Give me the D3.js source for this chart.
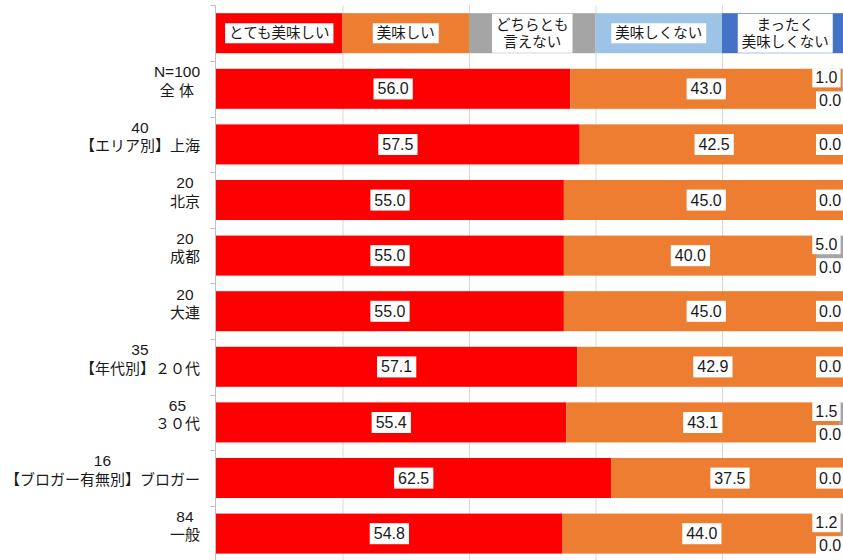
<!DOCTYPE html>
<html>
<head>
<meta charset="utf-8">
<script src="https://cdn.jsdelivr.net/npm/d3@7"></script>
<style>
  html, body { margin: 0; padding: 0; background: #fff; overflow: hidden; }
  svg { display: block; }
</style>
</head>
<body>
<div id="chart"></div>
<script>
// Taste evaluation by segment (%)
const categories = ["全 体", "【エリア別】上海", "北京", "成都", "大連", "【年代別】２０代", "３０代", "【ブロガー有無別】ブロガー", "一般"];
const sampleSizes = ["N=100", "40", "20", "20", "20", "35", "65", "16", "84"];
const seriesNames = ["とても美味しい", "美味しい", "どちらとも\n言えない", "美味しくない", "まったく\n美味しくない"];
const seriesColors = ["#ff0000", "#ed7d31", "#a5a5a5", "#9dc3e6", "#4472c4"];
const veryTasty = [56.0, 57.5, 55.0, 55.0, 55.0, 57.1, 55.4, 62.5, 54.8];
const tasty = [43.0, 42.5, 45.0, 40.0, 45.0, 42.9, 43.1, 37.5, 44.0];
const neutral = [1.0, 0.0, 0.0, 5.0, 0.0, 0.0, 1.5, 0.0, 1.2];
const notTasty = [0.0, 0.0, 0.0, 0.0, 0.0, 0.0, 0.0, 0.0, 0.0];
const notAtAll = [0.0, 0.0, 0.0, 0.0, 0.0, 0.0, 0.0, 0.0, 0.0];
const gridTicks = [20, 40, 60, 80, 100];

const W = 843, H = 560;
const svg = d3.select("#chart").append("svg").attr("width", W).attr("height", H);

const numFont = "'Liberation Sans', Arial, 'Noto Sans CJK JP', sans-serif";
const jpFont = "'Liberation Sans', 'Noto Sans CJK JP', sans-serif";

const rows = ["__legend__"].concat(categories);
const y = d3.scaleBand().domain(rows).range([5.4, 561.4]).paddingInner(0.28).paddingOuter(0.14);
const x = d3.scaleLinear().domain([0, 100]).range([216, 848.5]);

const seriesValues = [veryTasty, tasty, neutral, notTasty, notAtAll];
const table = categories.map((c, i) => {
  const row = { category: c };
  seriesValues.forEach((vals, k) => row["s" + k] = vals[i]);
  return row;
});
const keys = seriesValues.map((_, k) => "s" + k);
const stacked = d3.stack().keys(keys)(table);

// Vertical gridlines
const plotTop = y.range()[0], plotBottom = y.range()[1];
svg.append("g").selectAll("line").data(gridTicks).join("line")
  .attr("x1", d => x(d) + 0.5).attr("x2", d => x(d) + 0.5)
  .attr("y1", plotTop).attr("y2", plotBottom)
  .attr("stroke", "#d9d9d9").attr("stroke-width", 1);

// Category axis line and tick marks at band boundaries
const axisX = x(0) - 0.5;
svg.append("line")
  .attr("x1", axisX).attr("x2", axisX).attr("y1", plotTop).attr("y2", plotBottom)
  .attr("stroke", "#bfbfbf").attr("stroke-width", 1);
const boundaries = d3.range(rows.length + 1).map(i => plotTop + i * y.step());
svg.append("g").selectAll("line").data(boundaries).join("line")
  .attr("x1", axisX - 5).attr("x2", axisX)
  .attr("y1", d => Math.round(d) + 0.5).attr("y2", d => Math.round(d) + 0.5)
  .attr("stroke", "#bfbfbf").attr("stroke-width", 1);

// Stacked bars
const barsG = svg.append("g");
stacked.forEach((layer, k) => {
  barsG.append("g").attr("fill", seriesColors[k])
    .selectAll("rect").data(layer).join("rect")
    .attr("x", d => x(d[0]))
    .attr("width", d => Math.max(0, x(d[1]) - x(d[0])))
    .attr("y", d => y(d.data.category))
    .attr("height", y.bandwidth());
});

// Legend drawn as the first row: equal-width colour segments with boxed names
const legendY = y("__legend__");
const legendShare = 100 / seriesNames.length;
const legendG = svg.append("g");
seriesNames.forEach((name, k) => {
  const x0 = x(k * legendShare), x1 = x((k + 1) * legendShare);
  legendG.append("rect")
    .attr("x", x0).attr("width", x1 - x0)
    .attr("y", legendY).attr("height", y.bandwidth())
    .attr("fill", seriesColors[k]);
});

// Helper: boxed text label (white background)
function boxedLabel(g, lines, cx, cy, opts) {
  const fs = opts.fontSize, lh = opts.lineHeight || fs * 1.15;
  const grp = g.append("g");
  const rect = grp.append("rect").attr("fill", "#fff");
  const t = grp.append("text")
    .attr("font-family", opts.font).attr("font-size", fs)
    .attr("fill", "#1a1a1a")
    .attr("text-anchor", opts.anchor || "middle");
  const n = lines.length;
  lines.forEach((ln, i) => {
    t.append("tspan").attr("x", cx)
      .attr("y", cy + (i - (n - 1) / 2) * lh)
      .attr("dy", "0.35em").text(ln);
  });
  const bb = t.node().getBBox();
  const px = opts.padX, py = opts.padY;
  rect.attr("x", bb.x - px).attr("y", bb.y - py)
    .attr("width", bb.width + 2 * px).attr("height", bb.height + 2 * py);
  return grp;
}

seriesNames.forEach((name, k) => {
  const cx = x((k + 0.5) * legendShare);
  const cy = legendY + y.bandwidth() / 2;
  const lines = name.split("\n");
  boxedLabel(legendG, lines, cx, cy, {
    font: jpFont, fontSize: 14.5, lineHeight: 17,
    padX: 4, padY: lines.length > 1 ? 3 : 2
  });
});

// Category labels: sample size over the group name, centered as a block right-aligned to the axis
const labelG = svg.append("g");
categories.forEach((c, i) => {
  const cy = y(c) + y.bandwidth() / 2;
  const g = labelG.append("g");
  const t1 = g.append("text").attr("font-family", numFont).attr("font-size", 15.5)
    .attr("fill", "#1a1a1a").attr("text-anchor", "middle")
    .attr("y", cy - 17).attr("dy", "0.35em").text(sampleSizes[i]);
  const t2 = g.append("text").attr("font-family", jpFont).attr("font-size", 15)
    .attr("fill", "#1a1a1a").attr("text-anchor", "middle")
    .attr("y", cy + 1.5).attr("dy", "0.35em").text(c);
  const w = Math.max(t1.node().getComputedTextLength(), t2.node().getComputedTextLength());
  const center = 200 - w / 2;
  t1.attr("x", center);
  t2.attr("x", center);
});

// Value labels
const valG = svg.append("g");
const fmt = d3.format(".1f");
const valOpts = { font: numFont, fontSize: 16, padX: 4, padY: 2 };
[0, 1].forEach(k => {
  stacked[k].forEach(d => {
    const cx = (x(d[0]) + x(d[1])) / 2;
    const cy = y(d.data.category) + y.bandwidth() / 2;
    boxedLabel(valG, [fmt(d[1] - d[0])], cx, cy, valOpts);
  });
});
// Small shares are labelled near the end of the bar
const endX = x(100);
categories.forEach((c, i) => {
  const cy = y(c) + y.bandwidth() / 2;
  if (neutral[i] > 0) {
    boxedLabel(valG, [fmt(neutral[i])], endX - 11, cy - 11, Object.assign({}, valOpts, { anchor: "end", padX: 3, padY: 1 }));
    boxedLabel(valG, [fmt(notTasty[i])], endX - 29.5, cy + 12, Object.assign({}, valOpts, { anchor: "start", padX: 3, padY: 1 }));
  } else {
    boxedLabel(valG, [fmt(notTasty[i])], endX - 29.5, cy, Object.assign({}, valOpts, { anchor: "start", padX: 3, padY: 2 }));
  }
});
</script>
</body>
</html>
